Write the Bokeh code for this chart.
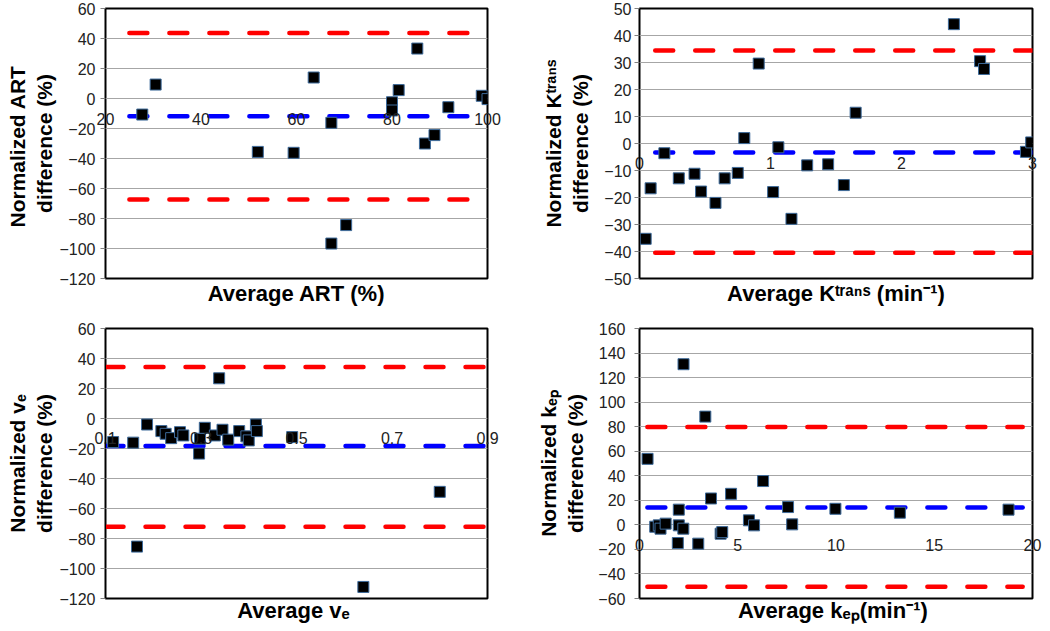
from bokeh.plotting import figure
from bokeh.layouts import gridplot
from bokeh.models import LinearAxis, FixedTicker, Range1d
from bokeh.embed import file_html
from bokeh.resources import INLINE

# ---------------- data ----------------
# Panel 1: ART
art_avg = [27.7, 30.5, 51.9, 59.4, 63.6, 67.3, 67.3, 70.4, 80.0, 80.0, 81.4, 85.3, 86.9, 88.9, 91.8, 98.8, 100.0]
art_diff = [-10.7, 9.3, -35.6, -36.2, 14.0, -16.2, -96.7, -84.4, -2.5, -8.0, 5.6, 33.3, -30.0, -24.4, -5.8, 1.8, -0.4]
art_limits = [43.6, -11.8, -67.3]          # upper, mean, lower
art_line_x = [25.0, 100.0]
art_xticks = [20, 40, 60, 80, 100]
art_xlabels = ["20", "40", "60", "80", "100"]
art_yticks = [-120, -100, -80, -60, -40, -20, 0, 20, 40, 60]

# Panel 2: Ktrans
kt_avg = [0.047, 0.085, 0.19, 0.30, 0.42, 0.47, 0.58, 0.65, 0.75, 0.80, 0.91, 1.02, 1.06, 1.16,
          1.28, 1.44, 1.56, 1.65, 2.40, 2.60, 2.63, 2.95, 2.99]
kt_diff = [-35.3, -16.6, -3.6, -12.9, -11.2, -17.8, -22.0, -12.9, -10.9, 2.0, 29.6, -18.0, -1.4, -27.9,
           -8.1, -7.7, -15.4, 11.4, 44.2, 30.5, 27.6, -3.1, 0.4]
kt_limits = [34.4, -3.3, -40.5]
kt_line_x = [0.12, 3.0]
kt_xticks = [0, 1, 2, 3]
kt_xlabels = ["0", "1", "2", "3"]
kt_yticks = [-50, -40, -30, -20, -10, 0, 10, 20, 30, 40, 50]

# Panel 3: ve
ve_avg = [0.116, 0.158, 0.166, 0.187, 0.217, 0.226, 0.2375, 0.256, 0.263, 0.296, 0.298, 0.308,
          0.329, 0.338, 0.345, 0.357, 0.380, 0.395, 0.400, 0.415, 0.417, 0.491, 0.640, 0.800]
ve_diff = [-15.7, -16.1, -85.4, -4.0, -8.4, -10.2, -13.1, -9.1, -11.3, -23.4, -13.5, -6.2,
           -11.3, 26.8, -7.5, -14.1, -8.4, -11.9, -14.6, -4.0, -8.4, -12.4, -112.3, -48.9]
ve_limits = [34.3, -18.4, -72.1]
ve_line_x = [0.1, 0.9]
ve_xticks = [0.1, 0.3, 0.5, 0.7, 0.9]
ve_xlabels = ["0.1", "0.3", "0.5", "0.7", "0.9"]
ve_yticks = [-120, -100, -80, -60, -40, -20, 0, 20, 40, 60]

# Panel 4: kep
kep_avg = [0.41, 0.80, 0.98, 1.07, 1.33, 1.95, 2.0, 2.0, 2.23, 2.24, 2.99, 3.35, 3.64, 4.13, 4.21,
           4.66, 5.57, 5.83, 6.29, 7.56, 7.77, 9.97, 13.25, 18.78]
kep_diff = [53.8, -1.5, -0.4, -3.1, 1.0, -14.8, 12.4, -0.4, -3.1, 130.9, -15.3, 88.2, 21.5, -7.2, -5.9,
            25.3, 3.7, -0.4, 35.7, 14.5, 0.4, 13.1, 9.9, 12.4]
kep_limits = [79.8, 14.2, -50.5]
kep_line_x = [0.4, 19.5]
kep_xticks = [0, 5, 10, 15, 20]
kep_xlabels = ["0", "5", "10", "15", "20"]
kep_yticks = [-60, -40, -20, 0, 20, 40, 60, 80, 100, 120, 140, 160]

FONT = "Liberation Sans"
TICK_FS = 16
TICK_LABEL_H = 18      # approx. box height of a 16px tick label


def make_panel(width, height, xr, yr, xticks, xlabels, yticks, xs, ys, line_x, limits,
               ylabel, xlabel, borders, ytick_standoff, ylabel_standoff, xlabel_standoff):
    bl, br, bt, bb = borders
    p = figure(width=width, height=height, x_range=Range1d(*xr), y_range=Range1d(*yr),
               x_axis_type=None, output_backend="svg", toolbar_location=None,
               min_border_left=bl, min_border_right=br, min_border_top=bt, min_border_bottom=bb)
    p.outline_line_color = "black"
    p.outline_line_width = 2
    p.background_fill_color = "white"
    p.border_fill_color = "white"

    # y axis
    yax = p.yaxis[0]
    yax.ticker = FixedTicker(ticks=yticks)
    yax.minor_tick_line_color = None
    yax.major_tick_in = 0
    yax.major_tick_out = 5
    yax.major_tick_line_color = "#808080"
    yax.axis_line_color = "black"
    yax.major_label_text_font = FONT
    yax.major_label_text_font_size = f"{TICK_FS}px"
    yax.major_label_text_color = "#222222"
    yax.major_label_standoff = ytick_standoff
    yax.axis_label = ylabel
    yax.axis_label_text_font = FONT
    yax.axis_label_text_font_style = "bold"
    yax.axis_label_text_font_size = "21px"
    yax.axis_label_text_color = "black"
    yax.axis_label_standoff = ylabel_standoff

    p.ygrid.ticker = FixedTicker(ticks=yticks)
    p.ygrid.grid_line_color = "#a6a6a6"
    p.ygrid.grid_line_width = 1

    # x axis: tick labels pulled up to sit under the y = 0 line (Excel style),
    # axis title kept just under the frame
    frame_h = height - bt - bb
    d0 = (0 - yr[0]) / (yr[1] - yr[0]) * frame_h      # px from frame bottom up to y=0
    lab_standoff = int(round(14 - d0))
    xax = LinearAxis(ticker=FixedTicker(ticks=xticks),
                     major_label_overrides={t: s for t, s in zip(xticks, xlabels)})
    xax.axis_line_color = None
    xax.major_tick_line_color = None
    xax.minor_tick_line_color = None
    xax.major_tick_out = 0
    xax.major_tick_in = 0
    xax.minor_tick_out = 0
    xax.major_label_standoff = lab_standoff
    xax.major_label_text_font = FONT
    xax.major_label_text_font_size = f"{TICK_FS}px"
    xax.major_label_text_color = "#222222"
    xax.axis_label = xlabel
    xax.axis_label_text_font = FONT
    xax.axis_label_text_font_style = "bold"
    xax.axis_label_text_font_size = "22px"
    xax.axis_label_text_color = "black"
    xax.axis_label_standoff = int(round(xlabel_standoff - lab_standoff - TICK_LABEL_H))
    p.add_layout(xax, "below")

    # limit lines
    upper, mean, lower = limits
    for val, col in ((upper, "#ff0000"), (lower, "#ff0000"), (mean, "#0000ff")):
        p.line(x=line_x, y=[val, val], line_color=col, line_width=4.5,
               line_dash="18 22", line_cap="round")

    # data points
    p.scatter(x=xs, y=ys, marker="square", size=11, fill_color="black",
              line_color="#3d6a9a", line_width=1)
    return p


p1 = make_panel(525, 315, (20, 100), (-120, 60), art_xticks, art_xlabels, art_yticks, art_avg, art_diff,
                art_line_x, art_limits, "Normalized  ART\ndifference (%)", "Average ART (%)",
                (105, 38, 8, 37), 5, 0, 5)
p2 = make_panel(525, 315, (0, 3), (-50, 50), kt_xticks, kt_xlabels, kt_yticks, kt_avg, kt_diff,
                kt_line_x, kt_limits, "Normalized K\u1d57\u02b3\u1d43\u207f\u02e2\ndifference (%)",
                "Average K\u1d57\u02b3\u1d43\u207f\u02e2 (min\u207b\u00b9)",
                (111, 13, 8, 36), 3, 9, 5)
p3 = make_panel(525, 316, (0.1, 0.9), (-120, 60), ve_xticks, ve_xlabels, ve_yticks, ve_avg, ve_diff,
                ve_line_x, ve_limits, "Normalized v\u2091\ndifference (%)", "Average  v\u2091",
                (105, 36, 13, 32), 5, 0, 2)
p4 = make_panel(525, 316, (0, 20), (-60, 160), kep_xticks, kep_xlabels, kep_yticks, kep_avg, kep_diff,
                kep_line_x, kep_limits, "Normalized k\u2091\u209a\ndifference (%)",
                "Average  k\u2091\u209a(min\u207b\u00b9)",
                (114, 18, 13, 33), 9, 8, 2)

grid = gridplot([[p1, p2], [p3, p4]], toolbar_location=None)

open("out.html", "w").write(file_html(grid, INLINE))
